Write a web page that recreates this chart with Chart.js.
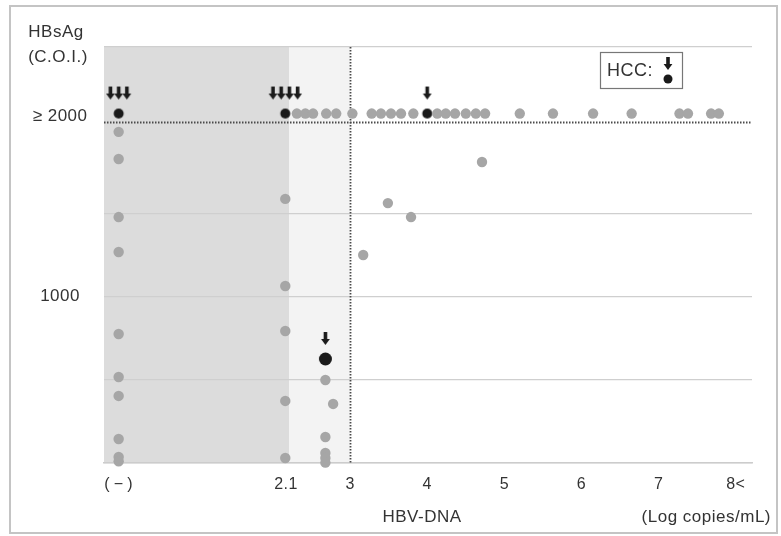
<!DOCTYPE html>
<html><head><meta charset="utf-8">
<script src="https://cdn.jsdelivr.net/npm/chart.js@4"></script>
<style>html,body{margin:0;padding:0;background:#fff}#wrap{width:781px;height:536px;position:relative}</style>
</head><body><div id="wrap"><canvas id="c" width="781" height="536"></canvas></div>
<script>
// Axis ticks
const xTickValues = [0, 2.17, 3, 4, 5, 6, 7, 8];
const xTickLabels = ['(\u2009\u2212\u2009)', '2.1', '3', '4', '5', '6', '7', '8<'];
const yTickValues = [0, 500, 1000, 1500, 2085, 2500];
const yTickLabels = ['', '', '1000', '', '\u2265 2000', ''];
const ceilingValue = 2050;   // dotted "≥ 2000" line
const cutoffDNA = 3;         // dotted vertical line
const shadeDarkEnd = 2.21;   // end of dark shaded band
const shadeLightEnd = 3;     // end of light shaded band

// Non-HCC cases (gray)
const grayDNA = [
  0, 0, 0, 0, 0, 0, 0, 0, 0, 0,
  2.16, 2.16, 2.16, 2.16, 2.16,
  2.68, 2.68, 2.68, 2.68, 2.68, 2.78,
  3.17, 3.49, 3.79, 4.71,
  2.31, 2.42, 2.52, 2.69, 2.82, 3.03, 3.28, 3.40, 3.53, 3.66, 3.82,
  4.13, 4.24, 4.36, 4.50, 4.63, 4.75, 5.20, 5.63, 6.15, 6.65, 7.27, 7.38, 7.68, 7.78
];
const grayHBsAg = [
  1990, 1827, 1478, 1268, 775, 517, 403, 144, 36, 10,
  1587, 1064, 793, 373, 30,
  499, 156, 60, 30, 2, 355,
  1250, 1562, 1478, 1809,
  2100, 2100, 2100, 2100, 2100, 2100, 2100, 2100, 2100, 2100, 2100,
  2100, 2100, 2100, 2100, 2100, 2100, 2100, 2100, 2100, 2100, 2100, 2100, 2100, 2100
];

// HCC cases (black dot + one arrow per case)
const hccDNA = [0, 2.16, 4.0, 2.68];
const hccHBsAg = [2100, 2100, 2100, 625];
const hccCount = [3, 4, 1, 1];
const hccDotRadius = [5, 5, 5, 6.5];

const FONT = '"Liberation Sans", Arial, sans-serif';
const INK = '#1a1a1a';
const TEXT = '#333333';

function drawArrow(g, x, cy) {
  g.fillStyle = INK;
  g.fillRect(x - 1.8, cy - 7, 3.6, 8);
  g.beginPath();
  g.moveTo(x - 4.4, cy);
  g.lineTo(x + 4.4, cy);
  g.lineTo(x, cy + 6);
  g.closePath();
  g.fill();
}
function hccGlyph(n, r) {
  const step = 8.2, off = 20;
  const W = Math.ceil(Math.max(n * step + 6, 2 * r + 4));
  const H = 2 * (off + 9);
  const c = document.createElement('canvas');
  c.width = W; c.height = H;
  const g = c.getContext('2d');
  g.fillStyle = INK;
  g.beginPath(); g.arc(W / 2, H / 2, r, 0, 2 * Math.PI); g.fill();
  for (let i = 0; i < n; i++) drawArrow(g, W / 2 + (i - (n - 1) / 2) * step, H / 2 - off);
  return c;
}
const hccStyles = hccCount.map((n, i) => hccGlyph(n, hccDotRadius[i]));

const decor = {
  id: 'decor',
  beforeDraw(chart) {
    const { ctx, chartArea: a, scales: { x } } = chart;
    ctx.letterSpacing = '0.5px';
    ctx.save();
    ctx.fillStyle = '#fff';
    ctx.fillRect(0, 0, chart.width, chart.height);
    const xd = x.getPixelForValue(shadeDarkEnd);
    const xl = x.getPixelForValue(shadeLightEnd);
    ctx.fillStyle = '#dcdcdc';
    ctx.fillRect(a.left, a.top, xd - a.left, a.bottom - a.top);
    ctx.fillStyle = '#f3f3f3';
    ctx.fillRect(xd, a.top, xl - xd, a.bottom - a.top);
    ctx.restore();
  },
  beforeDatasetsDraw(chart) {
    const { ctx, chartArea: a, scales: { x, y } } = chart;
    ctx.save();
    ctx.strokeStyle = '#4a4a4a';
    ctx.lineWidth = 1.8;
    ctx.setLineDash([1.5, 1.5]);
    const vx = Math.round(x.getPixelForValue(cutoffDNA)) + 0.5;
    ctx.beginPath(); ctx.moveTo(vx, a.top); ctx.lineTo(vx, a.bottom); ctx.stroke();
    const hy = Math.round(y.getPixelForValue(ceilingValue)) + 0.5;
    ctx.beginPath(); ctx.moveTo(a.left, hy); ctx.lineTo(a.right, hy); ctx.stroke();
    ctx.restore();
  },
  afterDraw(chart) {
    const { ctx } = chart;
    ctx.save();
    // frame
    ctx.strokeStyle = '#c4c4c4';
    ctx.lineWidth = 2;
    ctx.strokeRect(10, 6, 767, 527);
    // titles
    ctx.fillStyle = TEXT;
    ctx.font = '17px ' + FONT;
    ctx.textAlign = 'center';
    ctx.textBaseline = 'middle';
    ctx.fillText('HBsAg', 56, 32);
    ctx.fillText('(C.O.I.)', 58, 57);
    ctx.fillText('HBV-DNA', 422, 517);
    ctx.textAlign = 'right';
    ctx.fillText('(Log copies/mL)', 771, 517);
    // legend box
    ctx.strokeStyle = '#777';
    ctx.lineWidth = 1.2;
    ctx.strokeRect(600.5, 52.5, 82, 36);
    ctx.fillStyle = TEXT;
    ctx.textAlign = 'left';
    ctx.font = '18px ' + FONT;
    ctx.fillText('HCC:', 607, 71);
    drawArrow(ctx, 668, 64);
    ctx.fillStyle = INK;
    ctx.beginPath(); ctx.arc(668, 79, 4.5, 0, 2 * Math.PI); ctx.fill();
    ctx.restore();
  }
};

new Chart(document.getElementById('c'), {
  type: 'scatter',
  data: {
    datasets: [
      {
        label: 'non-HCC',
        data: grayDNA.map((v, i) => ({ x: v, y: grayHBsAg[i] })),
        backgroundColor: '#a6a6a6',
        borderWidth: 0,
        pointRadius: 5.2,
        clip: false
      },
      {
        label: 'HCC',
        data: hccDNA.map((v, i) => ({ x: v, y: hccHBsAg[i] })),
        pointStyle: ctx => hccStyles[ctx.dataIndex],
        pointRadius: 10,
        clip: false
      }
    ]
  },
  options: {
    responsive: false,
    animation: false,
    devicePixelRatio: 1,
    layout: { padding: { left: 10, right: 29, top: 47, bottom: 0 } },
    plugins: { legend: { display: false }, tooltip: { enabled: false } },
    scales: {
      x: {
        type: 'linear',
        min: -0.19,
        max: 8.21,
        afterBuildTicks: s => { s.ticks = xTickValues.map(v => ({ value: v })); },
        afterFit: s => { s.height = 73; },
        ticks: {
          callback: (v, i) => xTickLabels[i],
          autoSkip: false,
          maxRotation: 0,
          padding: 12,
          color: TEXT,
          font: { family: FONT, size: 16 }
        },
        grid: { display: false, drawTicks: false },
        border: { display: true, color: '#cccccc', width: 1.5 }
      },
      y: {
        type: 'linear',
        min: 0,
        max: 2500,
        afterBuildTicks: s => { s.ticks = yTickValues.map(v => ({ value: v })); },
        afterFit: s => { s.width = 94; },
        ticks: {
          callback: (v, i) => yTickLabels[i],
          autoSkip: false,
          crossAlign: 'center',
          padding: 18,
          color: TEXT,
          font: { family: FONT, size: 17 }
        },
        grid: {
          drawTicks: false,
          color: c => (c.tick && c.tick.value === 2085) ? 'rgba(0,0,0,0)' : '#cfcfcf',
          lineWidth: 1.2
        },
        border: { display: false }
      }
    }
  },
  plugins: [decor]
});
</script>
</body></html>
